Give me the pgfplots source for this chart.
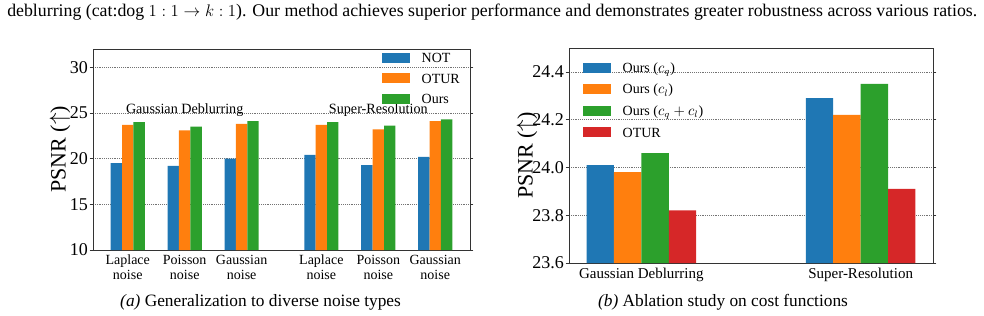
\documentclass[border=0pt]{standalone}
\usepackage{pgfplots}
\usepackage{pgfplotstable}
\pgfplotsset{compat=1.18}
\usepackage{fontspec}
\setmainfont{Liberation Serif}

\definecolor{tabblue}{HTML}{1F77B4}
\definecolor{taborange}{HTML}{FF7F0E}
\definecolor{tabgreen}{HTML}{2CA02C}
\definecolor{tabred}{HTML}{D62728}

% PSNR per noise type (left panel); group positions on the x axis
\pgfplotstableread{
pos  NOT  OTUR  Ours
0    19.5 23.7  24.0
1    19.2 23.1  23.5
2    20.0 23.8  24.1
3.4  20.4 23.7  24.0
4.4  19.3 23.2  23.6
5.4  20.2 24.1  24.3
}\noisetable

% PSNR per cost function (right panel)
\pgfplotstableread{
pos  cq     cl     cqcl   OTUR
0    24.01  23.98  24.06  23.82
1    24.29  24.22  24.35  23.91
}\costtable

\pgfplotsset{
  psnrbars/.style={
    scale only axis, anchor=south west,
    axis line style={black!80, line width=0.75pt},
    tick align=outside, major tick length=2.6pt,
    ytick style={black!80, line width=0.6pt},
    xtick style={draw=none},
    ymajorgrids, grid style={densely dotted, black!55, line width=0.5pt},
    /pgf/number format/assume math mode=true,
    yticklabel style={font=\fontsize{13.5}{15}\selectfont, inner sep=1pt},
    every axis y label/.style={rotate=90, anchor=center, font=\fontsize{16.5}{19}\selectfont},
    legend cell align=left,
    legend style={draw=none, fill=none, inner sep=0pt, anchor=north west,
      font=\fontsize{10.5}{12}\selectfont,
      nodes={inner sep=0pt, text height=7.25pt, text depth=0.25pt},
      /tikz/every odd column/.append style={column sep=8.8pt}},
  },
  % wide matplotlib-like legend patches
  patchlegend/.style={
    legend image code/.code={\fill[##1] (0pt,-3.75pt) rectangle (21pt,3.75pt);},
  },
}

\begin{document}
\begin{tikzpicture}
\useasboundingbox (0,0) rectangle (738pt,236.25pt);

\node[anchor=base west, inner sep=0pt, font=\fontsize{12.75}{15}\selectfont] at (5.25pt,223.5pt)
  {\resizebox{727.5pt}{!}{deblurring (cat:dog $1:1\rightarrow k:1$). Our method achieves superior performance and demonstrates greater robustness across various ratios.}};

\begin{axis}[psnrbars,
  at={(69.75pt,48.75pt)}, width=282.75pt, height=150.75pt,
  ybar=0pt, bar width=0.2, patchlegend,
  xmin=-0.61, xmax=6.01, ymin=10, ymax=32,
  xtick={0,1,2,3.4,4.4,5.4},
  xticklabels={{Laplace\\noise},{Poisson\\noise},{Gaussian\\noise},{Laplace\\noise},{Poisson\\noise},{Gaussian\\noise}},
  xticklabel style={align=center, font=\fontsize{10.5}{11}\selectfont, inner sep=1pt},
  ytick={10,15,20,25,30},
  ylabel={PSNR ($\uparrow$)},
  every axis y label/.append style={at={(axis description cs:-0.0875,0.5)}},
  legend style={at={(axis description cs:0.7658,0.9836)}, row sep=8.1pt},
]
\addplot[fill=tabblue, draw=none] table[x=pos, y=NOT] {\noisetable};
\addplot[fill=taborange, draw=none] table[x=pos, y=OTUR] {\noisetable};
\addplot[fill=tabgreen, draw=none] table[x=pos, y=Ours] {\noisetable};
\legend{NOT, OTUR, Ours}
\node[anchor=base, font=\fontsize{10.6}{12}\selectfont] at (axis cs:1,24.9) {Gaussian Deblurring};
\node[anchor=base, font=\fontsize{10.6}{12}\selectfont] at (axis cs:4.4,24.9) {Super-Resolution};
\end{axis}

\begin{axis}[psnrbars,
  at={(426.75pt,39pt)}, width=273pt, height=161.25pt,
  ybar=0pt, bar width=0.125, patchlegend,
  xmin=-0.33, xmax=1.33, ymin=23.6, ymax=24.5,
  xtick={0,1},
  xticklabels={Gaussian Deblurring, Super-Resolution},
  xticklabel style={font=\fontsize{11.25}{13}\selectfont, inner sep=1pt},
  ytick={23.6,23.8,24.0,24.2,24.4},
  yticklabel style={/pgf/number format/.cd, fixed, fixed zerofill, precision=1},
  ylabel={PSNR ($\uparrow$)},
  every axis y label/.append style={at={(axis description cs:-0.1154,0.5)}},
  legend style={at={(axis description cs:0.0376,0.9335)}, row sep=8.7pt},
]
\addplot[fill=tabblue, draw=none] table[x=pos, y=cq] {\costtable};
\addplot[fill=taborange, draw=none] table[x=pos, y=cl] {\costtable};
\addplot[fill=tabgreen, draw=none] table[x=pos, y=cqcl] {\costtable};
\addplot[fill=tabred, draw=none] table[x=pos, y=OTUR] {\costtable};
\legend{Ours ($c_q$), Ours ($c_l$), Ours ($c_q+c_l$), OTUR}
\end{axis}

\node[anchor=base, font=\fontsize{13}{15}\selectfont] at (195.4pt,6.75pt)
  {\textit{(a)} Generalization to diverse noise types};
\node[anchor=base, font=\fontsize{13}{15}\selectfont] at (542.25pt,6.75pt)
  {\textit{(b)} Ablation study on cost functions};
\end{tikzpicture}
\end{document}
